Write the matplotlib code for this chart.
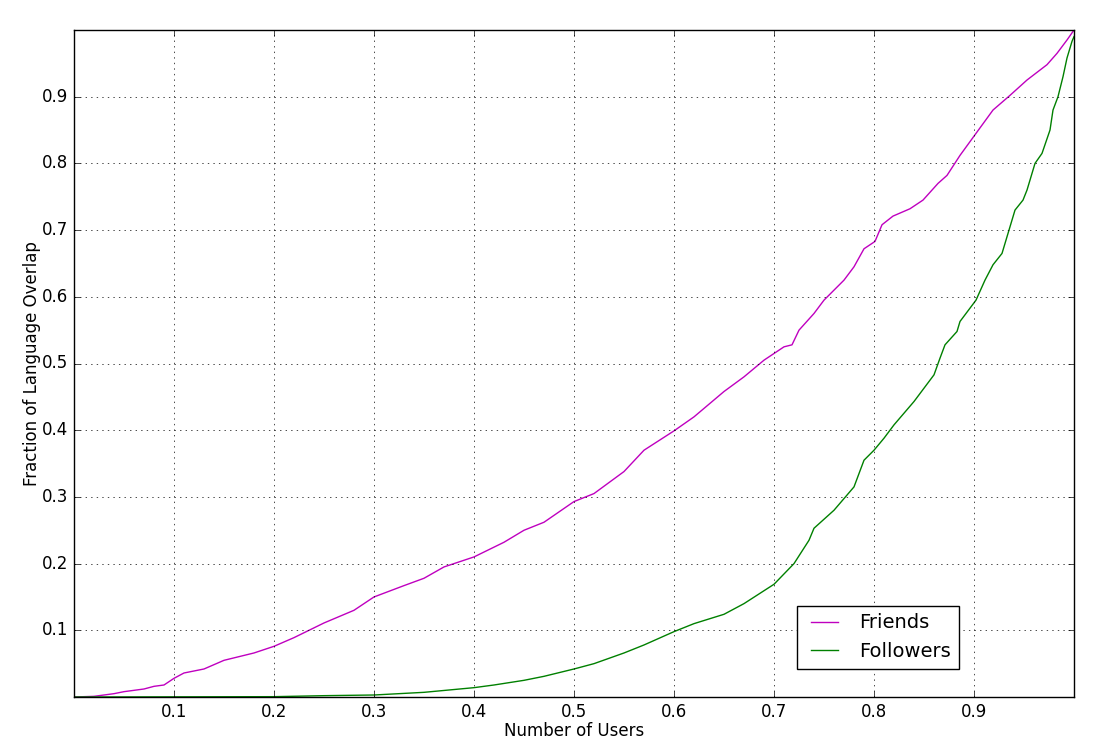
import numpy as np
import matplotlib
matplotlib.use("Agg")
import matplotlib.pyplot as plt

# ============================================================
# DATA
# ============================================================
friends_x = [0.0, 0.02, 0.04, 0.05, 0.07, 0.08, 0.09, 0.10, 0.11, 0.13, 0.15,
             0.18, 0.20, 0.22, 0.25, 0.28, 0.30, 0.33, 0.35, 0.37, 0.40, 0.43,
             0.45, 0.47, 0.50, 0.52, 0.55, 0.57, 0.60, 0.62, 0.65, 0.67, 0.69,
             0.70, 0.71, 0.718, 0.725, 0.74, 0.75, 0.77, 0.78, 0.79, 0.801, 0.808, 0.819,
             0.836, 0.849, 0.864, 0.873, 0.886, 0.902, 0.919, 0.936, 0.953,
             0.973, 0.983, 0.993, 1.0]
friends_y = [0.0, 0.001, 0.005, 0.008, 0.012, 0.016, 0.018, 0.028, 0.036, 0.042, 0.055,
             0.066, 0.076, 0.089, 0.111, 0.13, 0.15, 0.167, 0.178, 0.195, 0.21, 0.232,
             0.25, 0.262, 0.293, 0.305, 0.338, 0.37, 0.399, 0.42, 0.458, 0.48, 0.505,
             0.515, 0.525, 0.528, 0.55, 0.575, 0.595, 0.625, 0.645, 0.672, 0.683, 0.708, 0.721,
             0.732, 0.745, 0.77, 0.782, 0.812, 0.845, 0.88, 0.902, 0.925,
             0.948, 0.965, 0.985, 1.0]

followers_x = [0.0, 0.2, 0.25, 0.3, 0.35, 0.4, 0.42, 0.45, 0.47, 0.5, 0.52, 0.55,
               0.57, 0.6, 0.62, 0.65, 0.67, 0.7, 0.72, 0.735, 0.74, 0.76, 0.78,
               0.79, 0.8, 0.81, 0.82, 0.84, 0.86, 0.866, 0.871, 0.883, 0.886,
               0.896, 0.902, 0.911, 0.919, 0.928, 0.934, 0.941, 0.949, 0.953,
               0.961, 0.968, 0.976, 0.979, 0.984, 0.989, 0.993, 0.998, 1.0]
followers_y = [0.0, 0.0005, 0.002, 0.003, 0.007, 0.014, 0.018, 0.025, 0.031, 0.042, 0.05, 0.066,
               0.078, 0.098, 0.11, 0.124, 0.14, 0.169, 0.2, 0.235, 0.253, 0.28, 0.315,
               0.355, 0.37, 0.388, 0.408, 0.443, 0.483, 0.508, 0.528, 0.548, 0.563,
               0.583, 0.595, 0.625, 0.648, 0.665, 0.695, 0.73, 0.745, 0.76,
               0.8, 0.815, 0.85, 0.88, 0.9, 0.93, 0.958, 0.983, 0.99]

tick_values = [0.1, 0.2, 0.3, 0.4, 0.5, 0.6, 0.7, 0.8, 0.9]

# ============================================================
# PLOT
# ============================================================
plt.style.use("classic")
fig = plt.figure(figsize=(11.17, 7.55), dpi=100, facecolor="white")
ax = fig.add_axes([74 / 1117, 58 / 755, 1000 / 1117, 667 / 755])

ax.plot(friends_x, friends_y, color="m", linewidth=1.0, label="Friends")
ax.plot(followers_x, followers_y, color="g", linewidth=1.0, label="Followers")

ax.set_xlim(0, 1)
ax.set_ylim(0, 1)
ax.set_xticks(tick_values)
ax.set_yticks(tick_values)
ax.tick_params(labelsize=12)
ax.grid(True, linestyle=":", color="black", linewidth=0.5)

ax.set_xlabel("Number of Users", fontsize=12, labelpad=1)
ax.set_ylabel("Fraction of Language Overlap", fontsize=12, labelpad=1)

ax.legend(loc="lower right", bbox_to_anchor=(0.885, 0.042), borderaxespad=0,
          fontsize=14, fancybox=False, numpoints=2)

fig.savefig("out.png", dpi=100, facecolor="white")
